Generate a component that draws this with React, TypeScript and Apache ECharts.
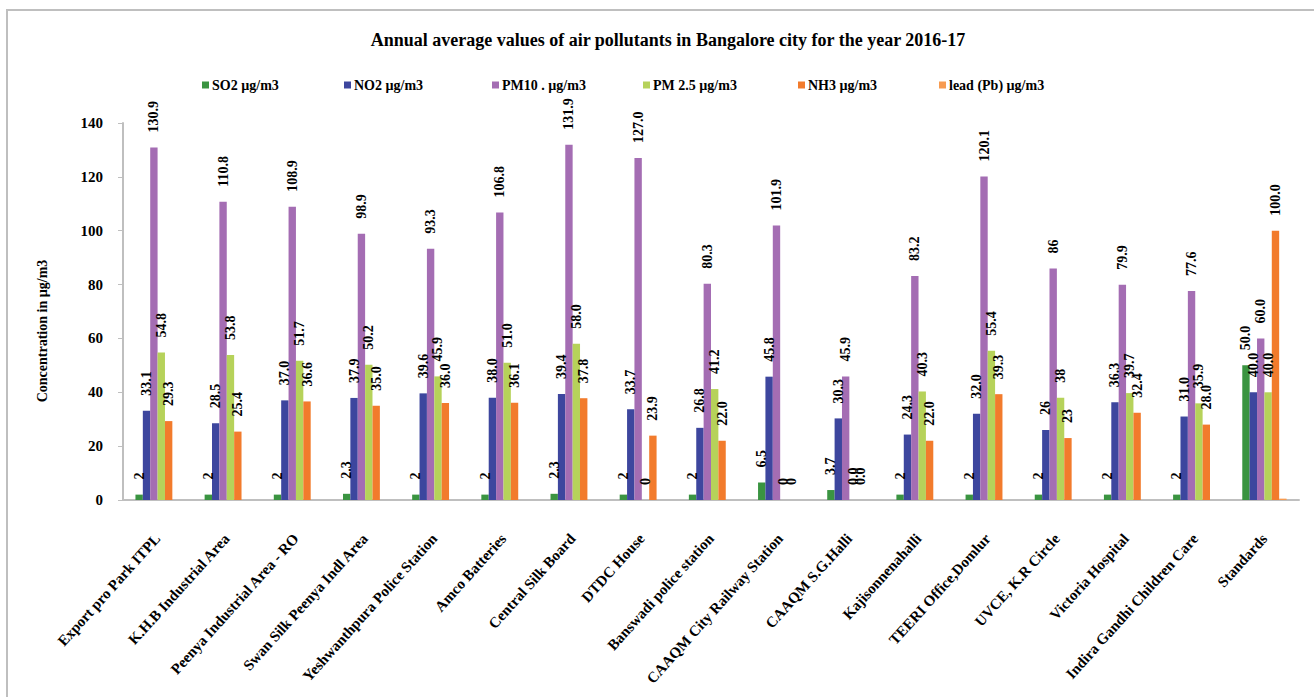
import React, { useEffect, useRef } from "react";
import * as echarts from "echarts";

// Monitoring stations plus the standards column
const stations = [
  "Export pro Park ITPL",
  "K.H.B Industrial Area",
  "Peenya Industrial Area - RO",
  "Swan Silk Peenya Indl Area",
  "Yeshwanthpura Police Station",
  "Amco Batteries",
  "Central Silk Board",
  "DTDC House",
  "Banswadi police station",
  "CAAQM City Railway Station",
  "CAAQM S.G.Halli",
  "Kajisonnenahalli",
  "TEERI Office,Domlur",
  "UVCE, K.R Circle",
  "Victoria Hospital",
  "Indira Gandhi Children Care",
  "Standards",
];

// Annual averages in µg/m3, kept as the printed figures ("-" = not measured)
const so2 = ["2", "2", "2", "2.3", "2", "2", "2.3", "2", "2", "6.5", "3.7", "2", "2", "2", "2", "2", "50.0"];
const no2 = ["33.1", "28.5", "37.0", "37.9", "39.6", "38.0", "39.4", "33.7", "26.8", "45.8", "30.3", "24.3", "32.0", "26", "36.3", "31.0", "40.0"];
const pm10 = ["130.9", "110.8", "108.9", "98.9", "93.3", "106.8", "131.9", "127.0", "80.3", "101.9", "45.9", "83.2", "120.1", "86", "79.9", "77.6", "60.0"];
const pm25 = ["54.8", "53.8", "51.7", "50.2", "45.9", "51.0", "58.0", "0", "41.2", "0", "0.0", "40.3", "55.4", "38", "39.7", "35.9", "40.0"];
const nh3 = ["29.3", "25.4", "36.6", "35.0", "36.0", "36.1", "37.8", "23.9", "22.0", "0", "0.0", "22.0", "39.3", "23", "32.4", "28.0", "100.0"];
const lead = ["-", "-", "-", "-", "-", "-", "-", "-", "-", "-", "-", "-", "-", "-", "-", "-", "0.5"];

const seriesNames = [
  "SO2 µg/m3",
  "NO2 µg/m3",
  "PM10 . µg/m3",
  "PM 2.5 µg/m3",
  "NH3 µg/m3",
  "lead (Pb) µg/m3",
];
const seriesColors = ["#3A9441", "#3D469E", "#A46DB3", "#B6D25A", "#F27B2C", "#F79B50"];
const seriesValues = [so2, no2, pm10, pm25, nh3, lead];
const seriesLabelled = [true, true, true, true, true, false];
// left edge of each legend entry
const legendLefts = [197, 339, 487, 638, 793, 934];

const FONT = "'Liberation Serif', 'Times New Roman', serif";

export default function App() {
  const ref = useRef<HTMLDivElement>(null);

  useEffect(() => {
    if (!ref.current) return;
    const chart = echarts.init(ref.current, undefined, { renderer: "svg" });

    const series = seriesValues.map((vals, i) => ({
      name: seriesNames[i],
      type: "bar",
      barGap: "0%",
      barCategoryGap: "36%",
      itemStyle: { color: seriesColors[i] },
      label: {
        show: seriesLabelled[i],
        position: "top",
        distance: 15,
        rotate: 90,
        align: "left",
        verticalAlign: "middle",
        color: "#000",
        fontFamily: FONT,
        fontWeight: "bold",
        fontSize: 14,
        formatter: (p: any) => (p.data && p.data.text) || "",
      },
      data: vals.map((s) =>
        s === "-" ? { value: "-", text: "" } : { value: parseFloat(s), text: s }
      ),
    }));

    const legends = seriesNames.map((name, i) => ({
      left: legendLefts[i],
      top: 73,
      icon: "rect",
      itemWidth: 7,
      itemHeight: 7,
      itemGap: 4,
      textStyle: { fontFamily: FONT, fontWeight: "bold", fontSize: 14, color: "#000", padding: [0, 0, 0, -2] },
      data: [name],
    }));

    chart.setOption({
      animation: false,
      backgroundColor: "#fff",
      title: {
        text: "Annual average values of air pollutants in Bangalore city for the year 2016-17",
        left: 663,
        textAlign: "center",
        top: 26,
        textStyle: { fontFamily: FONT, fontWeight: "bold", fontSize: 18, color: "#000" },
      },
      legend: legends,
      graphic: [
        {
          type: "rect",
          shape: { x: 7, y: 10, width: 1400, height: 800 },
          style: { fill: "none", stroke: "#BFBFBF", lineWidth: 2 },
          silent: true,
        },
        {
          type: "text",
          x: 42,
          y: 331,
          rotation: Math.PI / 2,
          style: {
            text: "Concentration in µg/m3",
            fontFamily: FONT,
            fontWeight: "bold",
            fontSize: 14,
            fill: "#000",
            textAlign: "center",
            textVerticalAlign: "middle",
          },
        },
      ],
      grid: { left: 123, right: 15, top: 123, bottom: 197, containLabel: false },
      xAxis: {
        type: "category",
        data: stations,
        axisTick: { show: false },
        axisLine: { lineStyle: { color: "#BFBFBF", width: 2 } },
        axisLabel: {
          interval: 0,
          rotate: 48,
          margin: 36,
          color: "#000",
          fontFamily: FONT,
          fontWeight: "bold",
          fontSize: 15,
        },
      },
      yAxis: {
        type: "value",
        min: 0,
        max: 140,
        interval: 20,
        splitLine: { show: false },
        axisLine: { show: true, lineStyle: { color: "#BFBFBF", width: 2 } },
        axisTick: { show: true, length: 5, lineStyle: { color: "#BFBFBF" } },
        axisLabel: {
          margin: 20,
          color: "#000",
          fontFamily: FONT,
          fontWeight: "bold",
          fontSize: 15,
        },
      },
      series,
    });

    return () => chart.dispose();
  }, []);

  return (
    <div
      ref={ref}
      style={{ position: "fixed", left: 0, top: 0, width: 1314, height: 697, background: "#fff" }}
    />
  );
}
